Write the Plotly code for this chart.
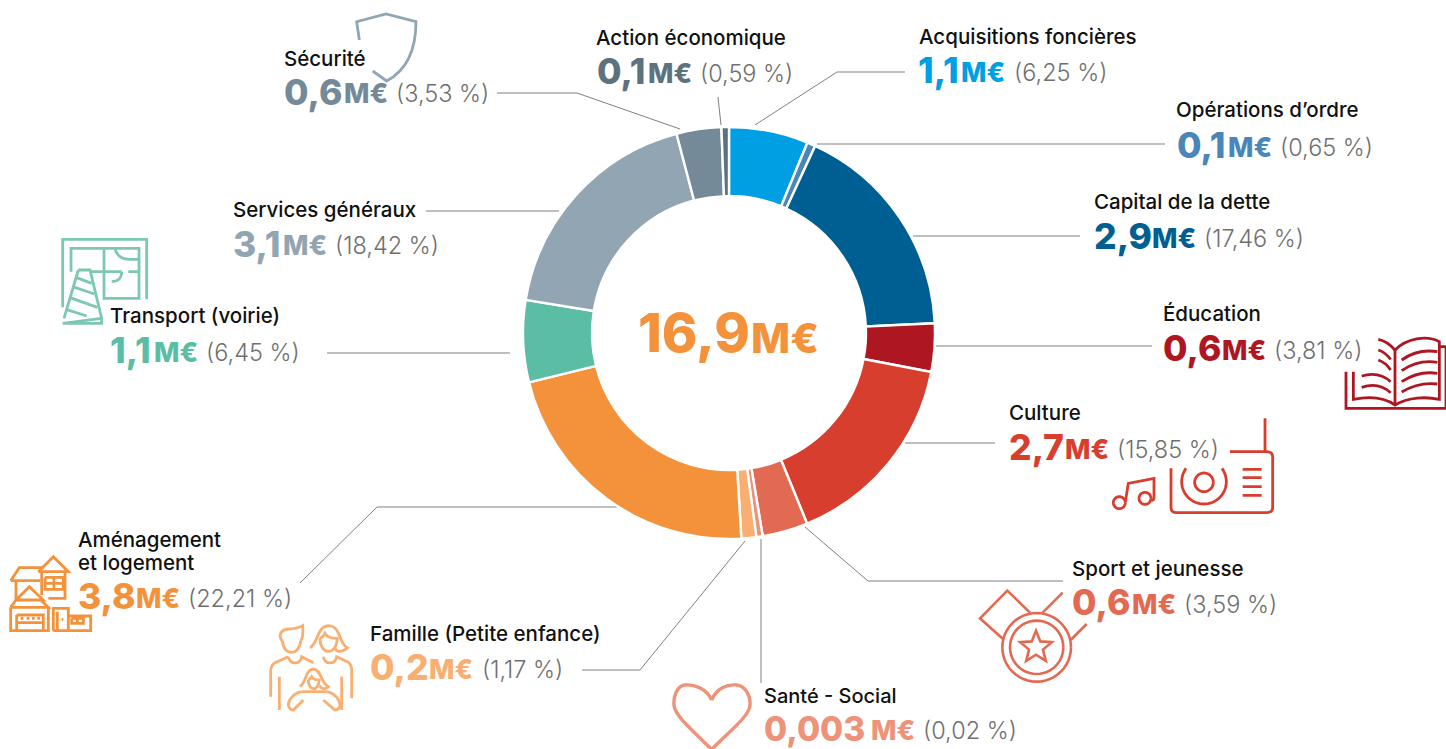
import re, math
import plotly.graph_objects as go

W, H = 1446, 749

# ---- data ----
categories = ["Acquisitions foncières", "Opérations d’ordre", "Capital de la dette", "Éducation", "Culture",
              "Sport et jeunesse", "Santé - Social", "Famille (Petite enfance)", "Aménagement<br>et logement",
              "Transport (voirie)", "Services généraux", "Sécurité", "Action économique"]
amount_labels = ["1,1", "0,1", "2,9", "0,6", "2,7", "0,6", "0,003", "0,2", "3,8", "1,1", "3,1", "0,6", "0,1"]
share_labels = ["6,25", "0,65", "17,46", "3,81", "15,85", "3,59", "0,02", "1,17", "22,21", "6,45", "18,42", "3,53", "0,59"]
# shares as drawn in the ring (the Santé sliver is drawn wider than its 0,02 %)
drawn_shares = [6.25, 0.65, 17.46, 3.81, 15.85, 3.59, 0.50, 1.17, 22.21, 6.45, 18.42, 3.53, 0.59]
total_label = "16,9"
unit_label = "M€"

# ---- styles / layout ----
colors = ["#009FE3", "#4A86B8", "#005F92", "#AE1722", "#D73E2E", "#E26A52", "#EC937A", "#F9AF71", "#F4923C",
          "#5BBDA3", "#92A5B2", "#758A99", "#5E727E"]
# label x, label y, amount x, amount y, unit x, share x
text_pos = [
    (919, 36, 918, 70, 961, 1014),
    (1176, 110, 1177, 145, 1228, 1280),
    (1094, 201, 1094, 236, 1152, 1204),
    (1163, 314, 1163, 348, 1222, 1274),
    (1009, 412, 1009, 447, 1065, 1117),
    (1072, 568, 1072, 602, 1132, 1184),
    (764, 696, 764, 728.5, 871, 923),
    (370, 633, 370, 667, 429, 482),
    (78, 539, 78, 596, 136, 188),
    (110, 316, 110, 350, 154, 206),
    (233, 209, 233, 244, 283, 335),
    (284, 58, 284, 92, 344, 396),
    (596, 37, 597, 71, 648, 700),
]
# label size, amount size for each row
text_sizes = [(20.5, 35.5)] * 6 + [(20, 33.5)] + [(20.5, 35.5)] * 6
leaders = [
    [(755, 125), (837, 72), (905, 72)],
    [(817, 144), (1165, 144)],
    [(913, 236), (1080, 236)],
    [(935, 346), (1152, 346)],
    [(905, 443), (995, 443)],
    [(805, 527), (868, 581), (1063, 581)],
    [(761, 539), (761, 683)],
    [(745, 541), (640, 670), (582, 670)],
    [(617, 507), (377, 507), (300, 583)],
    [(327, 353), (510, 353)],
    [(426, 211), (559, 211)],
    [(497, 93), (577, 93), (680, 129)],
    [(718, 97), (721, 125)],
]
CX, CY, RO, RI = 729, 333, 206, 137
FONT = "Inter"


def fx(x):
    return x / W


def fy(y):
    return 1 - y / H


def zoom_path(ox, oy, d):
    """Icon outline given in 3x crop pixels -> paper coordinates."""
    def conv(m):
        x, y = float(m.group(1)), float(m.group(2))
        return f"{fx(ox + x / 3):.5f},{fy(oy + y / 3):.5f}"
    return re.sub(r"(-?[\d.]+),(-?[\d.]+)", conv, d)


def arc(cx, cy, r, a0=0, a1=360, n=48):
    pts = []
    for i in range(n + 1):
        a = math.radians(a0 + (a1 - a0) * i / n)
        pts.append(f"{cx + r * math.cos(a):.1f},{cy + r * math.sin(a):.1f}")
    return "M " + " L ".join(pts)


def star(cx, cy, ro, ri):
    pts = []
    for i in range(10):
        r = ro if i % 2 == 0 else ri
        a = math.radians(-90 + 36 * i)
        pts.append(f"{cx + r * math.cos(a):.1f},{cy + r * math.sin(a):.1f}")
    return "M " + " L ".join(pts) + " Z"


icons = [
    # Transport
    (40, 220, "#7CC8B3", 2.8, [
        "M 68,262 L 68,58 L 320,58 L 320,238",
        "M 93,155 L 93,85 L 297,85 L 297,235 L 192,235 L 192,85",
        "M 150,155 L 245,155 M 265,155 L 297,155",
        "M 225,85 C 228,105 245,118 270,118 L 297,118",
        "M 245,155 C 245,172 235,185 215,185",
        "M 115,150 L 150,150 L 185,295 M 115,150 L 72,295",
        "M 68,310 L 185,310 L 185,295 L 68,310 Z",
        "M 108,172 L 155,190 M 98,200 L 163,222 M 88,232 L 172,262 M 78,268 L 140,288",
    ]),
    # Sécurité
    (270, 5, "#8FA6B5", 2.8, [
        "M 268,105 L 260,50 L 348,27 L 438,50 C 438,120 420,190 350,228 L 308,198",
    ]),
    # Éducation
    (1150, 300, "#AE1722", 2.8, [
        "M 685,118 C 705,122 722,135 735,150 C 770,115 830,105 868,125 L 868,298 C 830,290 775,290 735,315 C 700,290 650,290 610,298 L 610,215",
        "M 735,150 L 735,315",
        "M 868,140 L 888,140 L 888,325 L 588,325 L 588,215",
        "M 755,180 C 790,155 830,150 862,155",
        "M 755,212 C 790,188 830,182 862,187",
        "M 755,245 C 790,222 830,215 862,220",
        "M 755,276 C 790,255 830,248 862,252",
        "M 685,150 C 700,155 712,165 722,178",
        "M 685,180 C 700,185 712,195 722,210",
        "M 635,228 C 670,218 700,225 722,245",
        "M 635,262 C 670,250 700,258 722,278",
    ]),
    # Culture
    (1000, 400, "#D73E2E", 2.8, [
        "M 795,55 L 795,155",
        "M 690,155 L 800,155 Q 818,155 818,172 L 818,322 Q 818,338 800,338 L 530,338 Q 513,338 513,322 L 513,205",
        arc(612, 245, 67, -36.7, 216.7),
        arc(612, 247, 28),
        "M 728,208 L 785,208 M 728,233 L 785,233 M 728,260 L 785,260 M 728,286 L 785,286",
        arc(358, 308, 18),
        arc(435, 295, 18),
        "M 376,305 L 385,250 L 462,235 L 462,295 Q 460,305 453,298",
    ]),
    # Sport
    (960, 550, "#E26A52", 2.6, [
        "M 130,268 L 60,205 L 142,122 L 210,188",
        "M 248,188 L 308,128",
        "M 332,270 L 380,222",
        arc(230, 292, 103),
        arc(230, 292, 80),
        star(228, 292, 50, 22),
    ]),
    # Santé
    (660, 660, "#EC937A", 3.4, [
        "M 155,120 C 140,85 100,72 75,75 C 50,78 40,110 42,135 C 45,165 80,195 155,268 C 230,195 268,165 270,135 C 272,105 255,78 230,75 C 200,72 170,85 155,120",
    ]),
    # Famille
    (260, 615, "#F9AF71", 2.8, [
        "M 68,78 C 68,122 118,125 122,78",
        "M 68,80 C 55,65 58,45 85,42 C 100,42 115,40 128,32 C 130,55 128,70 122,78",
        "M 85,125 L 45,143 Q 32,150 32,170 L 32,245",
        "M 85,125 C 90,150 120,150 125,125 L 160,143",
        "M 58,185 L 58,285",
        "M 150,98 C 175,85 170,35 205,32 C 245,35 235,85 262,98 C 245,115 228,110 225,100",
        "M 180,70 C 180,120 228,125 232,70 C 215,70 200,65 195,55 C 190,65 185,68 180,70",
        "M 190,125 C 195,150 225,150 230,125 L 262,140 Q 275,148 275,165 L 275,250",
        "M 245,185 L 245,285",
        "M 120,215 C 140,200 135,165 160,162 C 185,165 180,200 205,215 C 195,225 185,222 178,212",
        "M 145,195 C 145,230 175,230 178,195 C 165,195 158,190 155,185 C 152,190 150,193 145,195",
        "M 125,230 C 100,235 85,255 85,270 Q 88,285 100,285 L 130,255",
        "M 125,230 L 200,230",
        "M 200,230 C 225,235 240,255 240,270 Q 238,285 225,285 L 190,255",
    ]),
    # Aménagement
    (0, 520, "#F4923C", 2.8, [
        "M 32,182 L 58,143 L 130,143 M 32,182 L 120,182 M 48,182 L 48,240",
        "M 115,155 L 160,110 L 205,155 L 115,155 M 125,155 L 125,225 M 195,155 L 195,235 L 145,235",
        "M 135,172 L 190,172 L 190,208 L 135,208 L 135,172 M 162,172 L 162,208 M 135,190 L 190,190",
        "M 48,240 L 88,200 L 130,240 L 48,240 M 32,262 L 145,262 L 122,240 M 32,262 L 48,240",
        "M 32,262 L 32,332 L 145,332 L 145,262",
        "M 50,285 L 130,285 L 130,332 M 50,285 L 50,332 M 50,308 L 130,308",
        "M 62,295 L 70,295 M 80,295 L 88,295 M 96,295 L 104,295 M 112,295 L 120,295",
        "M 160,332 L 160,265 L 205,265 L 205,332 L 160,332 M 172,275 L 172,332 M 185,298 L 190,298",
        "M 205,288 L 272,288 L 272,332 L 205,332",
        "M 215,295 L 250,295 L 250,310 L 215,310 L 215,295 M 232,295 L 232,310",
    ]),
]

fig = go.Figure(go.Pie(
    labels=[c.replace("<br>", " ") for c in categories],
    values=drawn_shares,
    sort=False,
    direction="clockwise",
    rotation=0,
    hole=RI / RO,
    textinfo="none",
    hoverinfo="label",
    marker=dict(colors=colors, line=dict(color="white", width=2.4)),
    domain=dict(x=[fx(CX - RO), fx(CX + RO)], y=[fy(CY + RO), fy(CY - RO)]),
))

shapes = []
for pts in leaders:
    d = "M " + " L ".join(f"{fx(x):.5f},{fy(y):.5f}" for x, y in pts)
    shapes.append(dict(type="path", path=d, xref="paper", yref="paper", layer="below",
                       line=dict(color="#808080", width=1)))
for ox, oy, col, lw, paths in icons:
    for d in paths:
        shapes.append(dict(type="path", path=zoom_path(ox, oy, d), xref="paper", yref="paper", layer="below",
                           line=dict(color=col, width=lw)))


def note(x, y, text, size, color, weight=400, family=FONT):
    return dict(x=fx(x), y=fy(y), xref="paper", yref="paper", text=text, showarrow=False,
                xanchor="left", yanchor="middle", align="left", borderpad=0, borderwidth=0,
                font=dict(size=size, color=color, family=family, weight=weight))


anns = []
for cat, amt, sh, col, (lx, ly, ax, ay, ux, sx), (ls, As) in zip(categories, amount_labels, share_labels, colors,
                                                                 text_pos, text_sizes):
    for i, line in enumerate(cat.split("<br>")):
        anns.append(note(lx, ly + 23 * i, line, ls, "#111111", 500))
    anns.append(note(ax, ay, amt, As, col, 800))
    anns.append(note(ux, ay + 2, unit_label, 27, col, 800))
    anns.append(note(sx, ay + 2, f"({sh} %)", 23.5, "#707070", 300))
anns.append(note(638, 332, total_label, 54, "#F4923C", 800))
anns.append(note(751, 338, unit_label, 41.5, "#F4923C", 800))

fig.update_layout(
    width=W, height=H, autosize=False,
    margin=dict(l=0, r=0, t=0, b=0, pad=0),
    paper_bgcolor="white", plot_bgcolor="white",
    showlegend=False, shapes=shapes, annotations=anns,
)
fig.write_html("out.html", config=dict(displayModeBar=False),
               post_script="document.body.style.margin='0';document.body.style.overflow='hidden';")
